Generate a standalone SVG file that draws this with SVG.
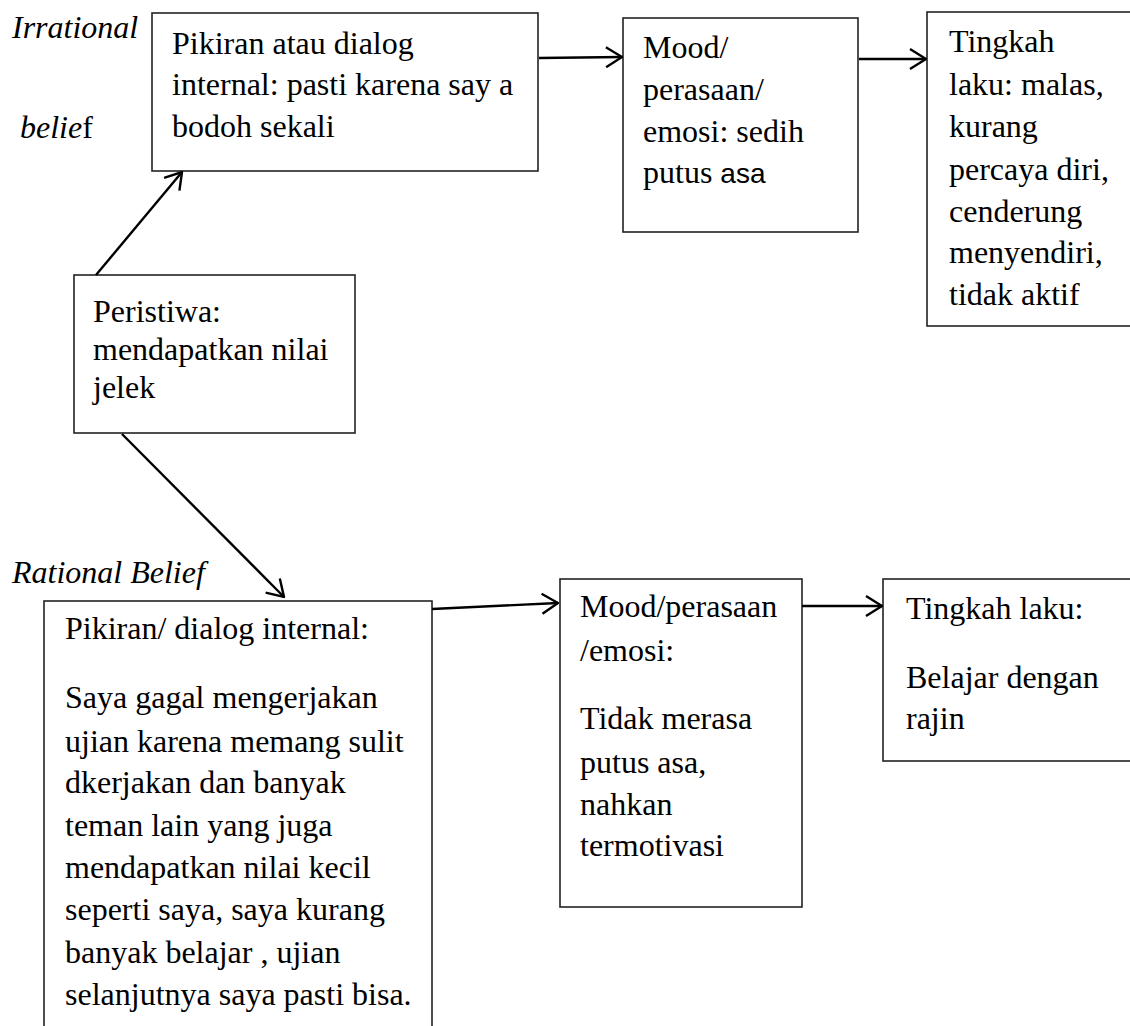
<svg xmlns="http://www.w3.org/2000/svg" width="1130" height="1026" viewBox="0 0 1130 1026">
<defs>
<style>
.box{fill:#fff;stroke:#222;stroke-width:1.6}
.t{font-family:"Liberation Serif","Times New Roman",serif;font-size:32px;fill:#000}
.it{font-style:italic}
.sans{font-family:"Liberation Sans",Arial,sans-serif;font-size:28px}
.conn{stroke:#000;stroke-width:2.4;fill:none;marker-end:url(#arr)}
</style>
<marker id="arr" viewBox="0 0 18 22" refX="17" refY="11" markerWidth="18" markerHeight="22" markerUnits="userSpaceOnUse" orient="auto">
<path d="M1,1 L17,11 L1,21" fill="none" stroke="#000" stroke-width="2.4"/>
</marker>
</defs>
<rect width="1130" height="1026" fill="#fff"/>

<g id="labels">
<text class="t it" x="12" y="38">Irrational</text>
<text class="t" x="20" y="138"><tspan class="it">belie</tspan>f</text>
<text class="t it" x="12" y="583">Rational Belief</text>
</g>

<g id="node-irrational-thought">
<rect class="box" x="152" y="13" width="386" height="158"/>
<text class="t" x="172" y="54">Pikiran atau dialog</text>
<text class="t" x="172" y="95">internal: pasti karena say a</text>
<text class="t" x="172" y="137">bodoh sekali</text>
</g>

<g id="node-irrational-mood">
<rect class="box" x="623" y="18" width="235" height="214"/>
<text class="t" x="643" y="58">Mood/</text>
<text class="t" x="643" y="100">perasaan/</text>
<text class="t" x="643" y="142">emosi: sedih</text>
<text class="t" x="643" y="183">putus <tspan class="sans">asa</tspan></text>
</g>

<g id="node-irrational-behavior">
<rect class="box" x="927" y="12" width="220" height="314"/>
<text class="t" x="949" y="52">Tingkah</text>
<text class="t" x="949" y="95">laku: malas,</text>
<text class="t" x="949" y="137">kurang</text>
<text class="t" x="949" y="180">percaya diri,</text>
<text class="t" x="949" y="222">cenderung</text>
<text class="t" x="949" y="263">menyendiri,</text>
<text class="t" x="949" y="305">tidak aktif</text>
</g>

<g id="node-event">
<rect class="box" x="74" y="275" width="281" height="158"/>
<text class="t" x="93" y="322">Peristiwa:</text>
<text class="t" x="93" y="360">mendapatkan nilai</text>
<text class="t" x="93" y="398">jelek</text>
</g>

<g id="node-rational-thought">
<rect class="box" x="44" y="601" width="388" height="440"/>
<text class="t" x="65" y="639">Pikiran/ dialog internal:</text>
<text class="t" x="65" y="708">Saya gagal mengerjakan</text>
<text class="t" x="65" y="752">ujian karena memang sulit</text>
<text class="t" x="65" y="793">dkerjakan dan banyak</text>
<text class="t" x="65" y="836">teman lain yang juga</text>
<text class="t" x="65" y="878">mendapatkan nilai kecil</text>
<text class="t" x="65" y="920">seperti saya, saya kurang</text>
<text class="t" x="65" y="963">banyak belajar , ujian</text>
<text class="t" x="65" y="1005">selanjutnya saya pasti bisa.</text>
</g>

<g id="node-rational-mood">
<rect class="box" x="560" y="579" width="242" height="328"/>
<text class="t" x="580" y="617">Mood/perasaan</text>
<text class="t" x="580" y="661">/emosi:</text>
<text class="t" x="580" y="729">Tidak merasa</text>
<text class="t" x="580" y="773">putus asa,</text>
<text class="t" x="580" y="815">nahkan</text>
<text class="t" x="580" y="856">termotivasi</text>
</g>

<g id="node-rational-behavior">
<rect class="box" x="883" y="579" width="260" height="182"/>
<text class="t" x="906" y="619">Tingkah laku:</text>
<text class="t" x="906" y="688">Belajar dengan</text>
<text class="t" x="906" y="729">rajin</text>
</g>

<g id="connectors">
<line class="conn" x1="539" y1="58" x2="622" y2="57"/>
<line class="conn" x1="859" y1="59" x2="926" y2="59"/>
<line class="conn" x1="96" y1="275" x2="182" y2="172"/>
<line class="conn" x1="122" y1="434" x2="284" y2="597"/>
<line class="conn" x1="432" y1="609" x2="558" y2="603"/>
<line class="conn" x1="802" y1="606" x2="882" y2="606"/>
</g>
</svg>
